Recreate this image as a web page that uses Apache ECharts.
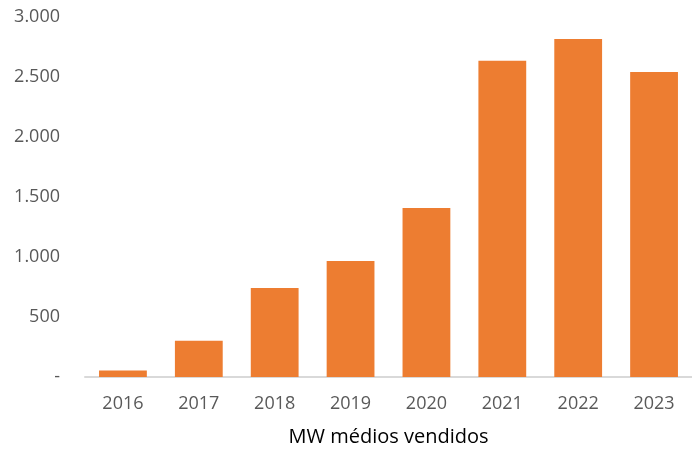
<!DOCTYPE html>
<html>
<head>
<meta charset="utf-8">
<script src="https://cdn.jsdelivr.net/npm/echarts@6/dist/echarts.min.js"></script>
<style>
  html, body { margin: 0; padding: 0; background: #fff; }
  #main { width: 692px; height: 449px; }
</style>
</head>
<body>
<div id="main"></div>
<script>
var years = ['2016', '2017', '2018', '2019', '2020', '2021', '2022', '2023'];
var mwMedios = [55, 303, 742, 967, 1408, 2636, 2817, 2542];

var chart = echarts.init(document.getElementById('main'));

function fmt(v) {
  if (v === 0) return '-';
  return String(v).replace(/\B(?=(\d{3})+(?!\d))/g, '.');
}

var option = {
  animation: false,
  grid: { left: 85, right: 0, top: 17, bottom: 72, outerBoundsMode: 'none', containLabel: false },
  xAxis: {
    type: 'category',
    data: years,
    name: 'MW médios vendidos',
    nameLocation: 'middle',
    nameGap: 50,
    nameTextStyle: { color: '#000', fontSize: 20, fontFamily: 'Open Sans' },
    axisLine: { lineStyle: { color: '#d9d9d9', width: 2 } },
    axisTick: { show: false },
    axisLabel: { color: '#595959', fontSize: 18, margin: 18, fontFamily: 'Open Sans' }
  },
  yAxis: {
    type: 'value',
    min: 0,
    max: 3000,
    interval: 500,
    splitLine: { show: false },
    axisLine: { show: false },
    axisTick: { show: false },
    axisLabel: { color: '#595959', fontSize: 18, margin: 25, fontFamily: 'Open Sans', formatter: fmt }
  },
  series: [{
    type: 'bar',
    data: mwMedios,
    barCategoryGap: '37%',
    itemStyle: { color: '#ED7D31' }
  }]
};

chart.setOption(option);
</script>
</body>
</html>
